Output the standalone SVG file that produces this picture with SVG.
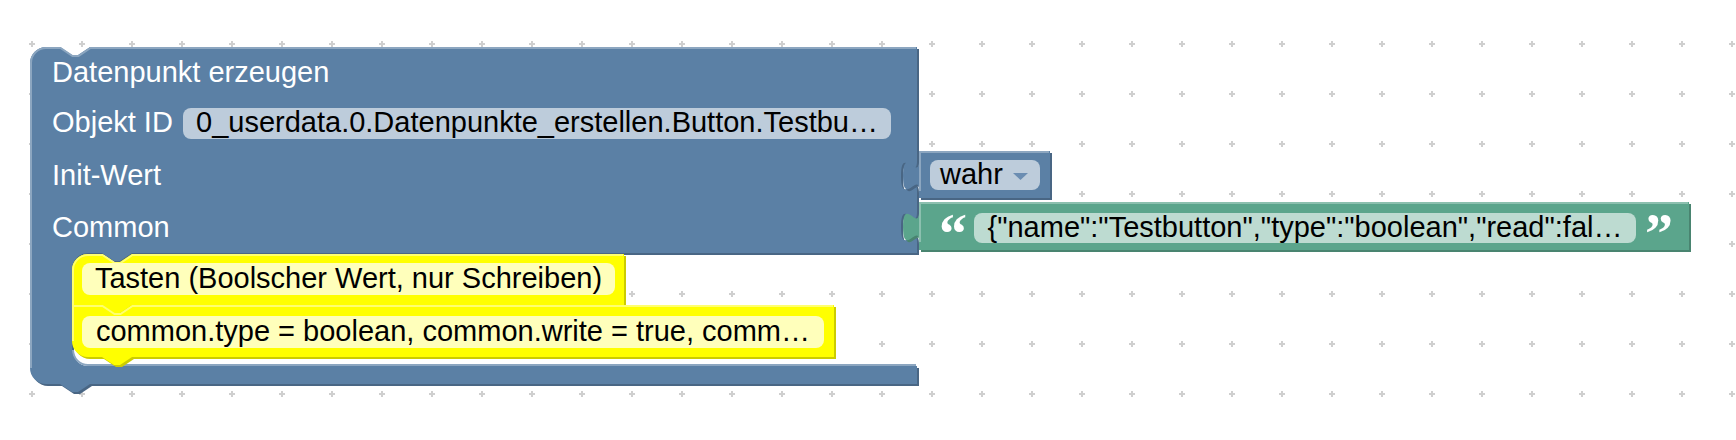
<svg xmlns="http://www.w3.org/2000/svg" width="1736" height="440" viewBox="0 0 1736 440">
<style>
.lbl{font-family:"Liberation Sans",Arial,Helvetica,sans-serif;font-size:29px;fill:#fff}
.txt{font-family:"Liberation Sans",Arial,Helvetica,sans-serif;font-size:29px;fill:#000}
.mid{text-anchor:middle}
.quote{font-family:"Liberation Serif","Times New Roman",serif;font-weight:bold;font-size:56px;fill:#fff}
.blueDark{fill:#496684}
.blue{fill:#5b80a5}
.blueLight{fill:none;stroke:#8ca6c0;stroke-width:2}
.greenDark{fill:#498470}
.green{fill:#5ba58c}
.greenLight{fill:none;stroke:#8cc0af;stroke-width:2}
.yelDark{fill:#cccc00}
.yel{fill:#ffff00}
.yelLight{fill:none;stroke:#ffff70;stroke-width:2}
.fBlue{fill:#bdccdb}
.fGreen{fill:#bddbd1}
.fYel{fill:#ffffbb}
</style>
<defs>
<pattern id="grid" patternUnits="userSpaceOnUse" width="50" height="50" x="7" y="19">
<path d="M22 25H28M25 22V28" stroke="#cfcfcf" stroke-width="2" fill="none"/>
</pattern>
<path id="mainShape" d="M30,63 A16,16 0 0,1 46,47 H60 l12,8 6,0 12,-8 H917 V161 c0,20 -16,-16 -16,15 s16,-5 16,15 V212 c0,20 -16,-16 -16,15 s16,-5 16,15 V253 H132 l-12,8 -6,0 -12,-8 H88 a16,16 0 0,0 -16,16 V350 a16,16 0 0,0 16,16 H917 V384 H90 l-12,8 -6,0 -12,-8 H46 a16,16 0 0,1 -16,-16 Z"/>
<path id="wahrShape" d="M919,151 H1050 V198 H919 V191 c0,-20 -16,16 -16,-15 s16,5 16,-15 Z"/>
<path id="greenShape" d="M919,202 H1689 V250 H919 V242 c0,-20 -16,16 -16,-15 s16,5 16,-15 Z"/>
<path id="y1Shape" d="M72,270 A16,16 0 0,1 88,254 H102 l12,8 6,0 12,-8 H624 V305 H132 l-12,8 -6,0 -12,-8 H72 Z"/>
<path id="y2Shape" d="M72,305 H102 l12,8 6,0 12,-8 H834 V357 H132 l-12,8 -6,0 -12,-8 H88 a16,16 0 0,1 -16,-16 Z"/>
</defs>
<rect x="0" y="0" width="1736" height="440" fill="#fff"/>
<rect x="0" y="0" width="1736" height="440" fill="url(#grid)"/>

<g id="connectors"></g>

<g id="block-datenpunkt">
<use href="#mainShape" class="blueDark" transform="translate(2,2)"/>
<use href="#mainShape" class="blue"/>
<path class="blueLight" d="M31,368 V63 A15,15 0 0,1 46,48 H60.5 l12,8 6,0 12,-8 H916"/>
<path class="blueLight" d="M73,350 a15,15 0 0,0 15,15 H916"/>
<text class="lbl" x="52" y="82">Datenpunkt erzeugen</text>
<text class="lbl" x="52" y="132">Objekt ID</text>
<rect class="fBlue" x="183" y="108" width="708" height="31" rx="8"/>
<text class="txt mid" x="537" y="132">0_userdata.0.Datenpunkte_erstellen.Button.Testbu…</text>
<text class="lbl" x="52" y="185">Init-Wert</text>
<text class="lbl" x="52" y="237">Common</text>
</g>

<g id="block-wahr">
<use href="#wahrShape" class="blueDark" transform="translate(2,2)"/>
<use href="#wahrShape" class="blue"/>
<path class="blueLight" d="M920,191 V152 H1049"/>
<rect class="fBlue" x="930" y="160" width="110" height="30" rx="8"/>
<text class="txt" x="940" y="184">wahr</text>
<polygon points="1013,173 1028,173 1020.5,180" fill="#6b8db2"/>
</g>

<g id="block-text">
<use href="#greenShape" class="greenDark" transform="translate(2,2)"/>
<use href="#greenShape" class="green"/>
<path class="greenLight" d="M920,242 V203 H1688"/>
<text class="quote" x="939" y="253">“</text>
<rect class="fGreen" x="974" y="213" width="662" height="30" rx="8"/>
<text class="txt mid" x="1305" y="237">{"name":"Testbutton","type":"boolean","read":fal…</text>
<text class="quote" x="1645" y="253">”</text>
</g>

<g id="comment-tasten">
<use href="#y1Shape" class="yelDark" transform="translate(2,2)"/>
<use href="#y1Shape" class="yel"/>
<path class="yelLight" d="M73,305 V270 A15,15 0 0,1 88,255 H102.5 l12,8 6,0 12,-8 H623"/>
<rect class="fYel" x="82" y="263" width="533" height="32" rx="8"/>
<text class="txt mid" x="348.5" y="288">Tasten (Boolscher Wert, nur Schreiben)</text>
</g>

<g id="comment-common">
<use href="#y2Shape" class="yelDark" transform="translate(2,2)"/>
<use href="#y2Shape" class="yel"/>
<path class="yelLight" d="M73,341 V306 H102.5 l12,8 6,0 12,-8 H833"/>
<rect class="fYel" x="82" y="316" width="742" height="32" rx="8"/>
<text class="txt mid" x="453" y="341">common.type = boolean, common.write = true, comm…</text>
</g>
</svg>
